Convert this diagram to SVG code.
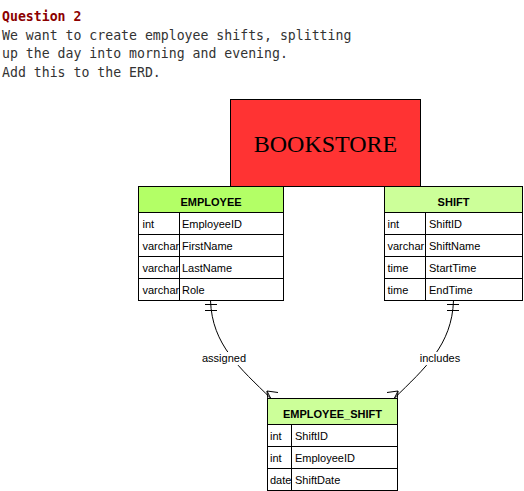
<svg xmlns="http://www.w3.org/2000/svg" width="524" height="491" viewBox="0 0 524 491">
<style>
.q{font-family:"DejaVu Sans Mono","Liberation Mono",monospace;font-size:13.2px;fill:#333333}
.qt{font-weight:bold;fill:#8B0000}
.box{stroke:#000;stroke-width:1}
.hd{font-family:"Liberation Sans",Arial,sans-serif;font-size:11px;font-weight:bold;fill:#000;text-anchor:middle}
.tx{font-family:"Liberation Sans",Arial,sans-serif;font-size:11px;fill:#000}
.ln{stroke:#000;stroke-width:1;fill:none}
.cn{stroke:#000;stroke-width:1;fill:none}
.lb{font-family:"Liberation Sans",Arial,sans-serif;font-size:11px;fill:#000;text-anchor:middle}
</style>
<rect width="524" height="491" fill="#fff"/>
<g id="question">
<text class="q qt" x="2" y="21">Question 2</text>
<text class="q" x="2" y="39.5">We want to create employee shifts, splitting</text>
<text class="q" x="2" y="58.2">up the day into morning and evening.</text>
<text class="q" x="2" y="77">Add this to the ERD.</text>
</g>
<g id="bookstore">
<rect class="box" x="230.5" y="99.5" width="190" height="87" fill="#FF3333"/>
<text x="325.5" y="152" font-family="'Liberation Serif','Times New Roman',serif" font-size="24" text-anchor="middle" fill="#000">BOOKSTORE</text>
</g>
<g id="connectors">
<path class="cn" d="M210.5,300.5 C212,345 240,368 271,398.5"/>
<path class="cn" d="M205,304.5 H217 M205,310.5 H217"/>
<path class="cn" d="M267,391 L278,392.5 M267,391 L271,399 M267,391 L268,401"/>
<path class="cn" d="M453.5,300.5 C452,345 425,368 394,398.5"/>
<path class="cn" d="M447,304.5 H459 M447,310.5 H459"/>
<path class="cn" d="M398,391 L387,392.5 M398,391 L394,399 M398,391 L397,401"/>
<rect x="202" y="352" width="44" height="13" fill="#fff"/>
<text class="lb" x="224" y="362">assigned</text>
<rect x="419" y="352" width="42" height="13" fill="#fff"/>
<text class="lb" x="440" y="362">includes</text>
</g>
<g id="employee">
<rect class="box" x="138.5" y="186.5" width="145" height="26" fill="#B3FF66"/>
<rect class="box" x="138.5" y="212.5" width="145" height="88" fill="#fff"/>
<text class="hd" x="211" y="205.5">EMPLOYEE</text>
<text class="tx" x="142.5" y="227.5">int</text>
<text class="tx" x="182" y="227.5">EmployeeID</text>
<text class="tx" x="142.5" y="249.5">varchar</text>
<text class="tx" x="182" y="249.5">FirstName</text>
<text class="tx" x="142.5" y="271.5">varchar</text>
<text class="tx" x="182" y="271.5">LastName</text>
<text class="tx" x="142.5" y="293.5">varchar</text>
<text class="tx" x="182" y="293.5">Role</text>
<path class="ln" d="M138.5,234.5 H283.5 M138.5,256.5 H283.5 M138.5,278.5 H283.5 M179.5,212.5 V300.5"/>
</g>
<g id="shift">
<rect class="box" x="384.5" y="186.5" width="138" height="26" fill="#CCFF99"/>
<rect class="box" x="384.5" y="212.5" width="138" height="88" fill="#fff"/>
<text class="hd" x="453.5" y="205.5">SHIFT</text>
<text class="tx" x="387.5" y="227.5">int</text>
<text class="tx" x="429" y="227.5">ShiftID</text>
<text class="tx" x="387.5" y="249.5">varchar</text>
<text class="tx" x="429" y="249.5">ShiftName</text>
<text class="tx" x="387.5" y="271.5">time</text>
<text class="tx" x="429" y="271.5">StartTime</text>
<text class="tx" x="387.5" y="293.5">time</text>
<text class="tx" x="429" y="293.5">EndTime</text>
<path class="ln" d="M384.5,234.5 H522.5 M384.5,256.5 H522.5 M384.5,278.5 H522.5 M425.5,212.5 V300.5"/>
</g>
<g id="employee_shift">
<rect class="box" x="267.5" y="398.5" width="130" height="26" fill="#CCFF99"/>
<rect class="box" x="267.5" y="424.5" width="130" height="66" fill="#fff"/>
<text class="hd" x="332.5" y="417.5">EMPLOYEE_SHIFT</text>
<text class="tx" x="270" y="439.5">int</text>
<text class="tx" x="295" y="439.5">ShiftID</text>
<text class="tx" x="270" y="461.5">int</text>
<text class="tx" x="295" y="461.5">EmployeeID</text>
<text class="tx" x="270" y="483.5">date</text>
<text class="tx" x="295" y="483.5">ShiftDate</text>
<path class="ln" d="M267.5,446.5 H397.5 M267.5,468.5 H397.5 M291.5,424.5 V490.5"/>
</g>
</svg>
